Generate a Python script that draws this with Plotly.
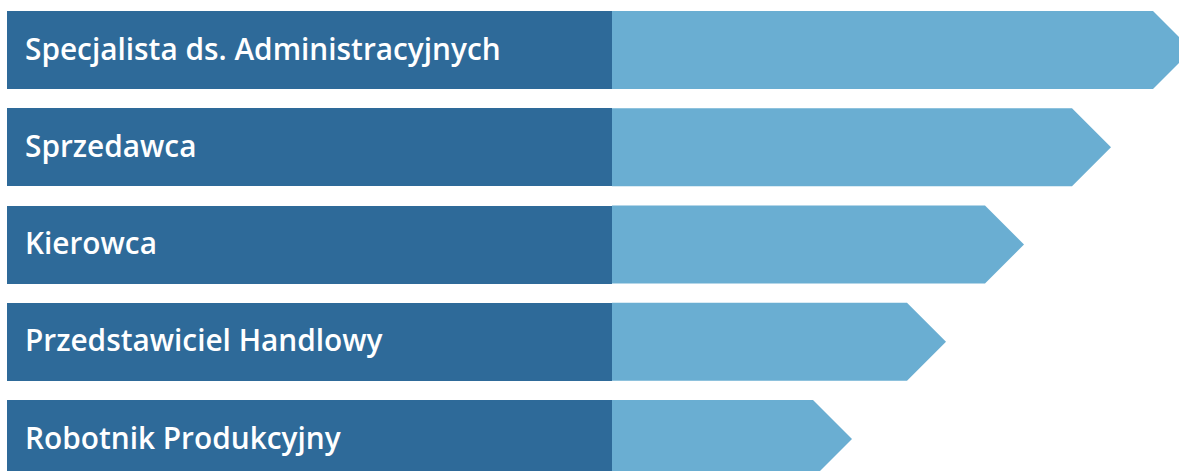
import plotly.graph_objects as go

categories = [
    "Specjalista ds. Administracyjnych",
    "Sprzedawca",
    "Kierowca",
    "Przedstawiciel Handlowy",
    "Robotnik Produkcyjny",
]
values = [1185, 1104, 1017, 939, 845]   # arrow tip position (relative units)
label_len = 605                          # dark label segment length

DARK = "#2E6A99"
LIGHT = "#6AAED2"

W, H = 1179, 471
pitch = 97.25          # px between bar centres
first_center = 50.0    # px
bar_px = 78.0
half = bar_px / 2 / pitch     # half bar height in y units
tip = bar_px / 2              # arrow tip length (x units == px)

ys = list(range(len(categories)))

fig = go.Figure()

# dark label segments
fig.add_trace(go.Bar(
    y=ys, x=[label_len] * len(categories), base=[0] * len(categories),
    orientation="h", width=2 * half, marker=dict(color=DARK, line=dict(width=0)),
    hoverinfo="skip", showlegend=False,
))

# light arrow segments
px_, py_ = [], []
for y, v in zip(ys, values):
    px_ += [label_len, v - tip, v, v - tip, label_len, label_len, None]
    py_ += [y - half, y - half, y, y + half, y + half, y - half, None]
fig.add_trace(go.Scatter(
    x=px_, y=py_, mode="lines", fill="toself", fillcolor=LIGHT,
    line=dict(width=0, color=LIGHT), hoverinfo="skip", showlegend=False,
))

for y, c in zip(ys, categories):
    fig.add_annotation(
        x=16, y=y, text=c, showarrow=False, xanchor="left", yanchor="middle",
        yshift=2,
        font=dict(family="Open Sans", size=29.8, color="white", weight=600),
    )

fig.update_layout(
    width=W, height=H,
    margin=dict(l=0, r=0, t=0, b=0),
    paper_bgcolor="white", plot_bgcolor="white",
    xaxis=dict(range=[-7, W - 7], visible=False, fixedrange=True),
    yaxis=dict(range=[(H - first_center) / pitch, -first_center / pitch],
               visible=False, fixedrange=True),
    bargap=0,
    hovermode=False,
)

fig.write_html(
    "out.html",
    config={"displayModeBar": False, "staticPlot": True},
    post_script="document.body.style.margin='0';document.body.style.overflow='hidden';",
)
